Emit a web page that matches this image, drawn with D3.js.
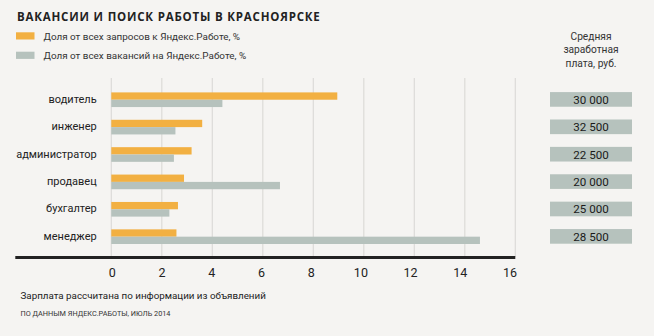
<!DOCTYPE html>
<html>
<head>
<meta charset="utf-8">
<script src="https://cdn.jsdelivr.net/npm/d3@7"></script>
<style>
  html, body { margin: 0; padding: 0; background: #f5f4f2; }
  svg { display: block; }
  text { font-family: Roboto, "Open Sans", sans-serif; fill: #222; }
</style>
</head>
<body>
<svg id="chart" width="654" height="336"></svg>
<script>
// Professions, top to bottom
const categories = ["водитель", "инженер", "администратор", "продавец", "бухгалтер", "менеджер"];
// Share of all Yandex.Rabota searches, %
const searchShare = [8.95, 3.6, 3.18, 2.88, 2.64, 2.58];
// Share of all Yandex.Rabota vacancies, %
const vacancyShare = [4.4, 2.54, 2.48, 6.68, 2.3, 14.6];
// Average salary, roubles
const salaries = ["30 000", "32 500", "22 500", "20 000", "25 000", "28 500"];
const xTicks = [0, 2, 4, 6, 8, 10, 12, 14, 16];
const legendLabels = ["Доля от всех запросов к Яндекс.Работе, %", "Доля от всех вакансий на Яндекс.Работе, %"];
const salaryHeader = ["Средняя", "заработная", "плата, руб."];

const ORANGE = "#f2b042";
const GREY = "#b6c2bd";

const svg = d3.select("#chart");

// Title
svg.append("text")
  .attr("x", 17).attr("y", 21)
  .style("font-family", "'Open Sans', sans-serif")
  .style("font-size", "11.5px").style("font-weight", "700")
  .style("letter-spacing", "0.8px")
  .text("ВАКАНСИИ И ПОИСК РАБОТЫ В КРАСНОЯРСКЕ");

// Legend
const legend = svg.append("g");
legendLabels.forEach((lab, i) => {
  const g = legend.append("g").attr("transform", `translate(16, ${32.3 + i * 19.4})`);
  g.append("rect").attr("width", 18.5).attr("height", 7.2).attr("fill", i === 0 ? ORANGE : GREY);
  g.append("text").attr("x", 27.5).attr("y", 7.6)
    .style("font-size", "9.9px").style("fill", "#333").text(lab);
});

// Scales
const x = d3.scaleLinear().domain([0, 16]).range([111.3, 515.3]);
const xLabels = d3.scaleLinear().domain([0, 16]).range([111.7, 509.6]);
const y = d3.scaleBand().domain(categories).range([78.7, 257.7]).paddingInner(0.465).paddingOuter(0.5);
const half = y.bandwidth() / 2;

// Vertical gridlines
svg.append("g").selectAll("line").data(xTicks).join("line")
  .attr("x1", d => x(d)).attr("x2", d => x(d))
  .attr("y1", 78).attr("y2", 257)
  .attr("stroke", "#dcdbd8").attr("stroke-width", 1.2);

// Bars: searches (orange) on top, vacancies (grey) below
const rows = svg.append("g").selectAll("g").data(categories).join("g")
  .attr("transform", d => `translate(0, ${y(d)})`);

rows.append("rect")
  .attr("x", x(0)).attr("y", 0)
  .attr("width", (d, i) => x(searchShare[i]) - x(0))
  .attr("height", half)
  .attr("fill", ORANGE);

rows.append("rect")
  .attr("x", x(0)).attr("y", half)
  .attr("width", (d, i) => x(vacancyShare[i]) - x(0))
  .attr("height", half)
  .attr("fill", GREY);

// Category labels
rows.append("text")
  .attr("x", 96.7).attr("y", half + 3.2)
  .attr("text-anchor", "end")
  .style("font-size", "11px")
  .text(d => d);

// Salary boxes
rows.append("rect")
  .attr("x", 550).attr("y", -0.3)
  .attr("width", 82).attr("height", y.bandwidth())
  .attr("fill", GREY);
rows.append("text")
  .attr("x", 591).attr("y", half + 4.2)
  .attr("text-anchor", "middle")
  .style("font-size", "11.6px").style("fill", "#1a1a1a")
  .text((d, i) => salaries[i]);

// Salary column header
svg.append("g").selectAll("text").data(salaryHeader).join("text")
  .attr("x", 591).attr("y", (d, i) => 40 + i * 13.4)
  .attr("text-anchor", "middle")
  .style("font-size", "10.2px").style("fill", "#333")
  .text(d => d);

// Baseline
svg.append("line")
  .attr("x1", 15.3).attr("x2", 515.3)
  .attr("y1", 257.5).attr("y2", 257.5)
  .attr("stroke", "#222").attr("stroke-width", 3);

// X axis labels
const axis = svg.append("g")
  .attr("transform", "translate(0, 260)")
  .call(d3.axisBottom(xLabels).tickValues(xTicks).tickSize(0).tickPadding(8).tickFormat(d3.format("d")));
axis.select(".domain").remove();
axis.selectAll("text")
  .style("font-family", "Roboto, sans-serif")
  .style("font-size", "12.5px").style("fill", "#222");

// Footnotes
svg.append("text")
  .attr("x", 20.5).attr("y", 298.6)
  .style("font-size", "9.8px").style("fill", "#222")
  .text("Зарплата рассчитана по информации из объявлений");
svg.append("text")
  .attr("x", 20.5).attr("y", 316)
  .style("font-size", "7.3px").style("fill", "#333")
  .text("ПО ДАННЫМ ЯНДЕКС.РАБОТЫ, ИЮЛЬ 2014");
</script>
</body>
</html>
